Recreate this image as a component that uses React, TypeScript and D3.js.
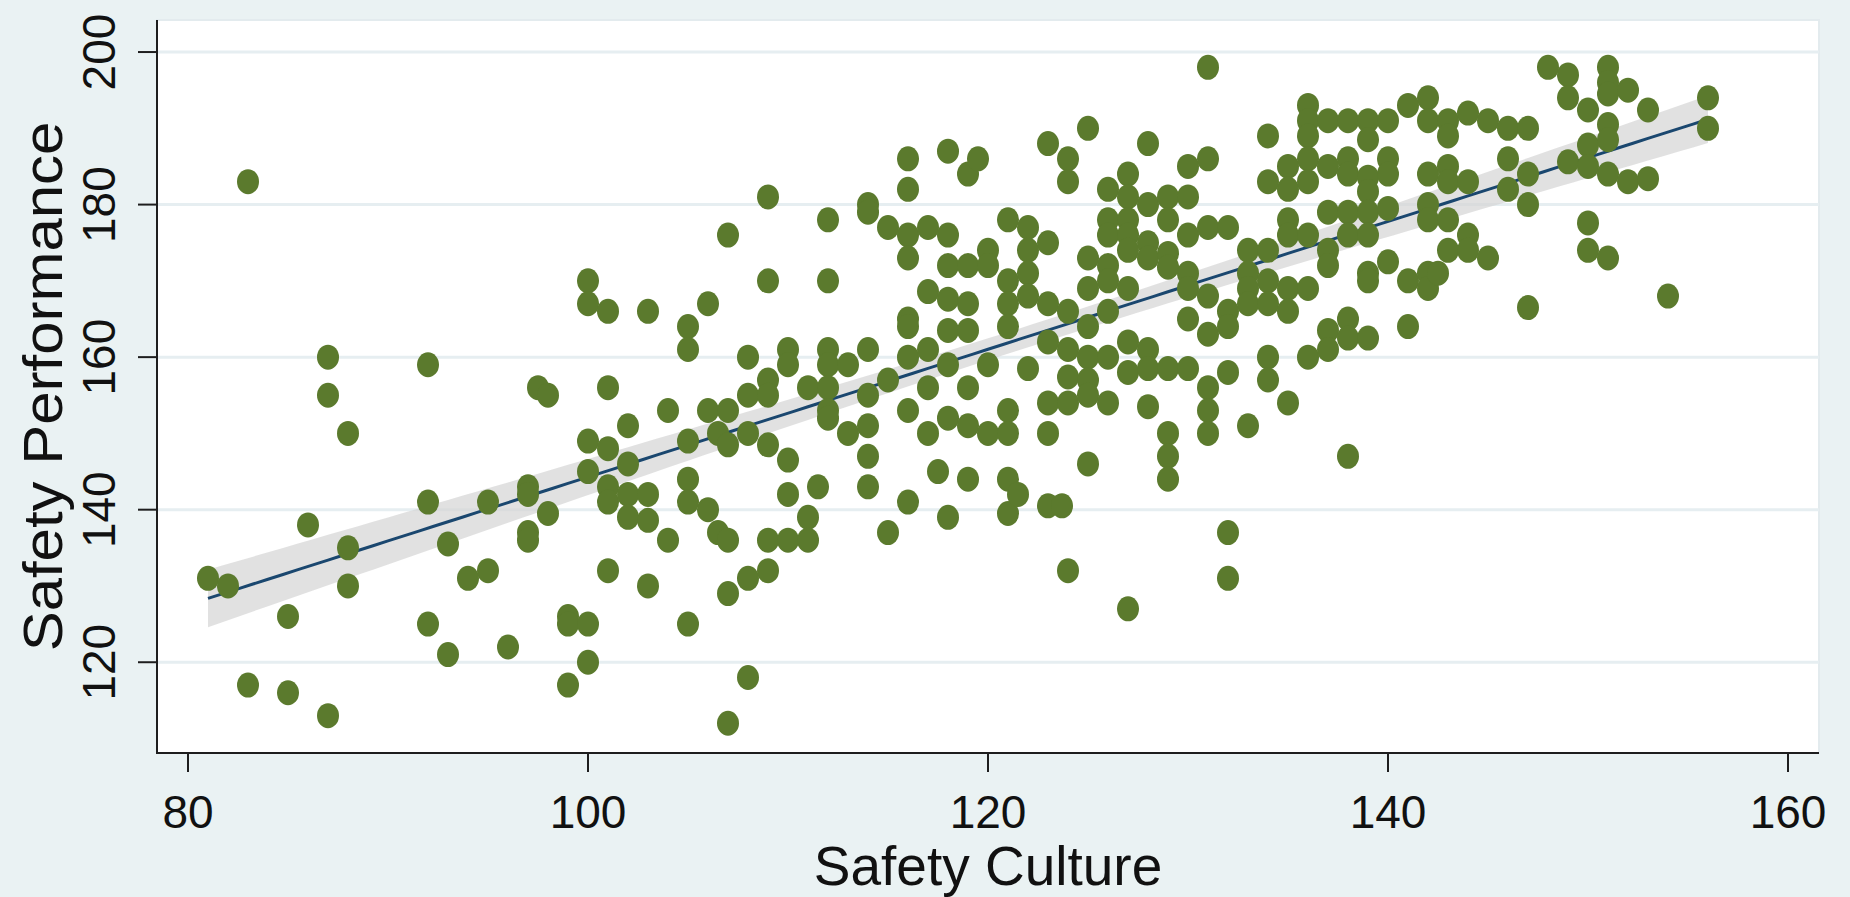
import React, { useEffect } from "react";
import * as d3 from "d3";

// safety culture score -> safety performance scores
const observations: [number, number[]][] = [
  [81, [131]],
  [82, [130]],
  [83, [183, 117]],
  [85, [126, 116]],
  [86, [138]],
  [87, [160, 155, 113]],
  [88, [150, 135, 130]],
  [92, [159, 141, 125]],
  [93, [135.5, 121]],
  [94, [131]],
  [95, [132, 141]],
  [96, [122]],
  [97, [143, 142, 137, 136]],
  [97.5, [156]],
  [98, [155, 139.5]],
  [99, [126, 125, 117]],
  [100, [170, 167, 149, 145, 125, 120]],
  [101, [166, 156, 148, 143, 141, 132]],
  [102, [151, 146, 142, 139]],
  [103, [166, 142, 138.6, 130]],
  [104, [153, 136]],
  [105, [164, 161, 149, 144, 141, 125]],
  [106, [167, 153, 140]],
  [106.5, [150, 137]],
  [107, [176, 153, 148.5, 136, 129, 112]],
  [108, [160, 155, 150, 131, 118]],
  [109, [181, 170, 157, 155, 148.5, 136, 132]],
  [110, [161, 159, 146.5, 142, 136]],
  [111, [156, 139, 136]],
  [111.5, [143]],
  [112, [178, 170, 161, 159, 156, 153, 152]],
  [113, [159, 150]],
  [114, [180, 179, 161, 155, 151, 147, 143]],
  [115, [177, 157, 137]],
  [116, [186, 182, 176, 173, 165, 164, 160, 153, 141]],
  [117, [177, 168.6, 161, 156, 150]],
  [117.5, [145]],
  [118, [187, 176, 172, 167.6, 163.5, 159, 152, 139]],
  [119, [184, 172, 167, 163.5, 156, 151, 144]],
  [119.5, [186]],
  [120, [174, 172, 159, 150]],
  [121, [178, 170, 167, 164, 153, 150, 144, 139.5]],
  [121.5, [142]],
  [122, [177, 174, 171, 168, 158.5]],
  [123, [188, 175, 167, 162, 154, 150, 140.5]],
  [123.7, [140.5]],
  [124, [186, 183, 166, 161, 157.4, 154, 132]],
  [125, [190, 173, 169, 164, 160, 157, 155, 146]],
  [126, [182, 178, 176, 172, 170, 166, 160, 154]],
  [127, [184, 181, 178, 176, 174, 169, 162, 158, 127]],
  [128, [188, 180, 175, 173, 161, 158.5, 153.5]],
  [129, [181, 178, 173.6, 171.8, 158.5, 150, 147, 144]],
  [130, [185, 181, 176, 171, 169, 165, 158.5]],
  [131, [198, 186, 177, 168, 163, 156, 153, 150]],
  [132, [177, 166, 164, 158, 137, 131]],
  [133, [174, 171, 169, 167, 151]],
  [134, [189, 183, 174, 170, 167, 160, 157]],
  [135, [185, 182, 178, 176, 169, 166, 154]],
  [136, [193, 191, 189, 186, 183, 176, 169, 160]],
  [137, [191, 185, 179, 174, 172, 163.5, 161]],
  [138, [191, 186, 184, 179, 176, 165, 162.5, 147]],
  [139, [191, 188.5, 183.6, 181.7, 179, 176, 171, 170, 162.5]],
  [140, [191, 186, 184, 179.5, 172.5]],
  [141, [193, 170, 164]],
  [142, [194, 191, 184, 180, 178, 171, 169]],
  [142.5, [171]],
  [143, [191, 189, 185, 183, 178, 174]],
  [144, [192, 183, 176, 174]],
  [145, [191, 173]],
  [146, [190, 186, 182]],
  [147, [190, 184, 180, 166.5]],
  [148, [198]],
  [149, [197, 194, 185.6]],
  [150, [192.4, 187.8, 185, 177.6, 174]],
  [151, [198, 196, 194.5, 190.5, 188.5, 184, 173]],
  [152, [195, 183]],
  [153, [192.4, 183.4]],
  [154, [168]],
  [156, [194, 190]],
];

const xTicks = [80, 100, 120, 140, 160];
const yTicks = [120, 140, 160, 180, 200];
const xTitle = "Safety Culture";
const yTitle = "Safety Performance";

const W = 1850;
const H = 897;
const plot = { left: 157, right: 1819, top: 20, bottom: 753 };
const font = "'Liberation Sans', Arial, sans-serif";

const points = observations.flatMap(([x, ys]) => ys.map((y) => ({ x, y })));

// linear fit with 95% confidence band, like Stata's lfitci
const n = points.length;
const xbar = d3.mean(points, (d) => d.x) as number;
const ybar = d3.mean(points, (d) => d.y) as number;
const sxx = d3.sum(points, (d) => (d.x - xbar) ** 2);
const sxy = d3.sum(points, (d) => (d.x - xbar) * (d.y - ybar));
const slope = sxy / sxx;
const intercept = ybar - slope * xbar;
const s2 = d3.sum(points, (d) => (d.y - intercept - slope * d.x) ** 2) / (n - 2);
const tCrit = 1.965;
const [xMin, xMax] = d3.extent(points, (d) => d.x) as [number, number];
const fitGrid = d3.range(0, 101).map((i) => xMin + ((xMax - xMin) * i) / 100);
const band = fitGrid.map((x) => {
  const yhat = intercept + slope * x;
  const hw = tCrit * Math.sqrt(s2 * (1 / n + (x - xbar) ** 2 / sxx));
  return { x, yhat, lo: yhat - hw, hi: yhat + hw };
});

const xScale = d3.scaleLinear().domain([78.45, 161.55]).range([plot.left, plot.right]);
const yScale = d3.scaleLinear().domain([108.1, 204.2]).range([plot.bottom, plot.top]);

const App = () => {
  useEffect(() => {
    document.body.style.margin = "0";
    document.body.style.overflow = "hidden";
  }, []);

  const areaPath = d3
    .area<{ x: number; lo: number; hi: number }>()
    .x((d) => xScale(d.x))
    .y0((d) => yScale(d.lo))
    .y1((d) => yScale(d.hi))(band) as string;

  const linePath = d3
    .line<{ x: number; yhat: number }>()
    .x((d) => xScale(d.x))
    .y((d) => yScale(d.yhat))(band) as string;

  const midX = (plot.left + plot.right) / 2;
  const midY = (plot.top + plot.bottom) / 2;

  return (
    <svg width={W} height={H} style={{ display: "block", fontFamily: font }}>
      <rect x={0} y={0} width={W} height={H} fill="#eaf2f3" />
      <rect
        x={plot.left}
        y={plot.top}
        width={plot.right - plot.left}
        height={plot.bottom - plot.top}
        fill="#ffffff"
        stroke="#e3ebee"
        strokeWidth={2}
      />

      {/* gridlines */}
      {yTicks.map((t) => (
        <line
          key={"g" + t}
          x1={plot.left}
          x2={plot.right}
          y1={yScale(t)}
          y2={yScale(t)}
          stroke="#e6eef1"
          strokeWidth={3}
        />
      ))}

      {/* confidence band, fit line, scatter */}
      <path d={areaPath} fill="#d6d6d6" fillOpacity={0.72} />
      <path d={linePath} fill="none" stroke="#1a476f" strokeWidth={3} />
      {points.map((d, i) => (
        <ellipse key={i} cx={xScale(d.x)} cy={yScale(d.y)} rx={11} ry={12.5} fill="#5b7a2d" />
      ))}

      {/* axes */}
      <line x1={plot.left} x2={plot.left} y1={plot.top} y2={plot.bottom} stroke="#1e1e1e" strokeWidth={2} />
      <line x1={plot.left - 1} x2={plot.right} y1={plot.bottom} y2={plot.bottom} stroke="#1e1e1e" strokeWidth={2} />

      {yTicks.map((t) => (
        <g key={"y" + t}>
          <line x1={plot.left - 19} x2={plot.left} y1={yScale(t)} y2={yScale(t)} stroke="#1e1e1e" strokeWidth={2} />
          <text
            transform={`translate(${plot.left - 42},${yScale(t)}) rotate(-90)`}
            textAnchor="middle"
            fontSize={46}
            fill="#111"
          >
            {t}
          </text>
        </g>
      ))}

      {xTicks.map((t) => (
        <g key={"x" + t}>
          <line x1={xScale(t)} x2={xScale(t)} y1={plot.bottom} y2={plot.bottom + 19} stroke="#1e1e1e" strokeWidth={2} />
          <text x={xScale(t)} y={plot.bottom + 75} textAnchor="middle" fontSize={46} fill="#111">
            {t}
          </text>
        </g>
      ))}

      <text x={midX} y={885} textAnchor="middle" fontSize={55} fill="#111">
        {xTitle}
      </text>
      <text
        transform={`translate(62,${midY}) rotate(-90) scale(1.09,1)`}
        textAnchor="middle"
        fontSize={55}
        fill="#111"
      >
        {yTitle}
      </text>
    </svg>
  );
};

export default App;
